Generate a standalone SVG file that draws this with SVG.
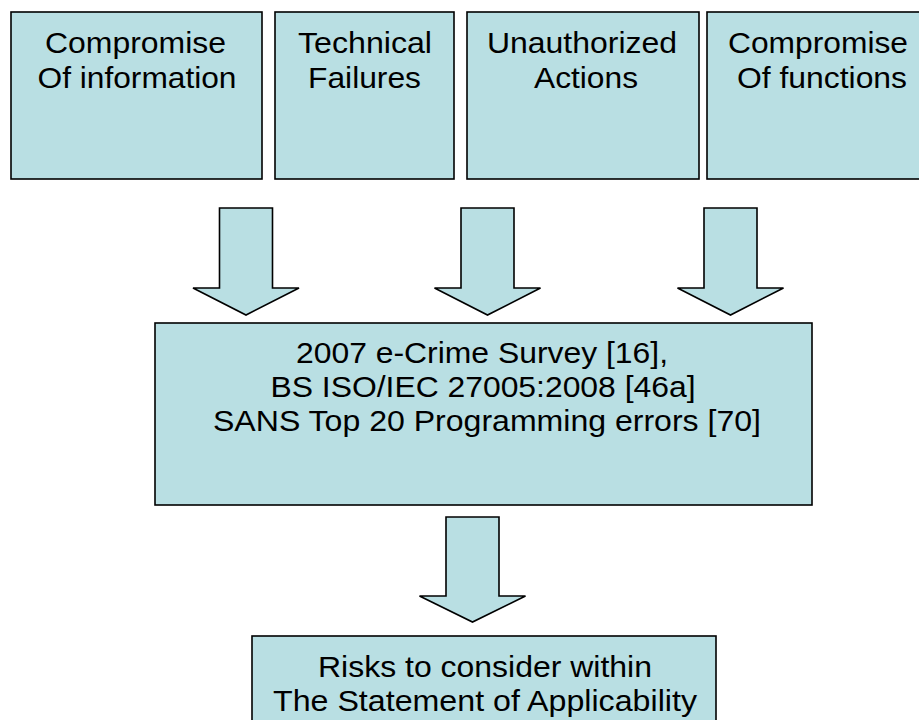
<svg xmlns="http://www.w3.org/2000/svg" width="919" height="720" viewBox="0 0 919 720">
<defs>
<style>
.box{fill:#b9dfe3;stroke:#000;stroke-width:1.6}
.arr{fill:#b9dfe3;stroke:#000;stroke-width:1.6;stroke-linejoin:miter}
.t{font-family:"Liberation Sans",Arial,sans-serif;font-size:29px;fill:#000;text-anchor:middle}
</style>
</defs>
<rect x="0" y="0" width="919" height="720" fill="#fff"/>
<g id="node-compromise-information">
<rect class="box" x="11" y="12" width="251" height="167"/>
<text class="t" x="135.5" y="53" textLength="181" lengthAdjust="spacingAndGlyphs">Compromise</text>
<text class="t" x="137" y="88" textLength="199" lengthAdjust="spacingAndGlyphs">Of information</text>
</g>
<g id="node-technical-failures">
<rect class="box" x="275" y="12" width="179" height="167"/>
<text class="t" x="365" y="53" textLength="134" lengthAdjust="spacingAndGlyphs">Technical</text>
<text class="t" x="364.5" y="88" textLength="113" lengthAdjust="spacingAndGlyphs">Failures</text>
</g>
<g id="node-unauthorized-actions">
<rect class="box" x="467" y="12" width="232" height="167"/>
<text class="t" x="582" y="53" textLength="190" lengthAdjust="spacingAndGlyphs">Unauthorized</text>
<text class="t" x="586" y="88" textLength="104" lengthAdjust="spacingAndGlyphs">Actions</text>
</g>
<g id="node-compromise-functions">
<rect class="box" x="707" y="12" width="226" height="167"/>
<text class="t" x="818" y="53" textLength="180" lengthAdjust="spacingAndGlyphs">Compromise</text>
<text class="t" x="822" y="88" textLength="170" lengthAdjust="spacingAndGlyphs">Of functions</text>
</g>
<g id="node-sources">
<rect class="box" x="155" y="323" width="657" height="182"/>
<text class="t" x="482" y="363" textLength="372" lengthAdjust="spacingAndGlyphs">2007 e-Crime Survey [16],</text>
<text class="t" x="483" y="397" textLength="425" lengthAdjust="spacingAndGlyphs">BS ISO/IEC 27005:2008 [46a]</text>
<text class="t" x="487" y="431" textLength="548" lengthAdjust="spacingAndGlyphs">SANS Top 20 Programming errors [70]</text>
</g>
<g id="node-risks">
<rect class="box" x="252" y="636" width="464" height="100"/>
<text class="t" x="485" y="677" textLength="334" lengthAdjust="spacingAndGlyphs">Risks to consider within</text>
<text class="t" x="485" y="711" textLength="424" lengthAdjust="spacingAndGlyphs">The Statement of Applicability</text>
</g>
<g id="connectors">
<polygon class="arr" points="219.5,208 272.5,208 272.5,288 299,288 246,315 193,288 219.5,288"/>
<polygon class="arr" points="461,208 514,208 514,288 540.5,288 487.5,315 434.5,288 461,288"/>
<polygon class="arr" points="704,208 757,208 757,288 783.5,288 730.5,315 677.5,288 704,288"/>
<polygon class="arr" points="446,517 499,517 499,596 525.5,596 472.5,622 419.5,596 446,596"/>
</g>
</svg>
